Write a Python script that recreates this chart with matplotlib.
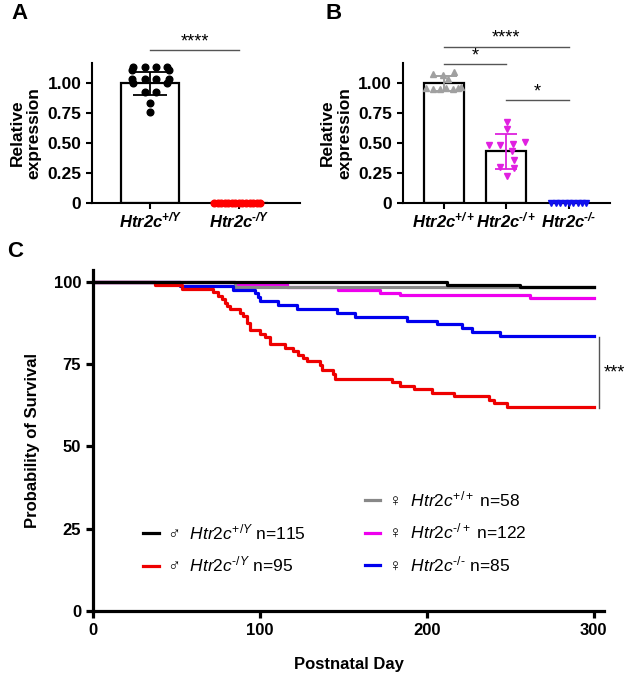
import numpy as np
import matplotlib.pyplot as plt

plt.rcParams['font.family'] = ['Liberation Sans', 'DejaVu Sans']
plt.rcParams['mathtext.fontset'] = 'custom'
plt.rcParams['mathtext.rm'] = 'Liberation Sans'
plt.rcParams['mathtext.it'] = 'Liberation Sans:italic'
plt.rcParams['mathtext.bf'] = 'Liberation Sans:bold'
plt.rcParams['mathtext.bfit'] = 'Liberation Sans:italic:bold'

#%% Data

# Panel A - relative expression, males
a_labels = ['$\\mathbfit{Htr2c}^{\\mathbfit{+/Y}}$', '$\\mathbfit{Htr2c}^{\\mathbfit{\u2010/Y}}$']
a_means = [1.00, 0.0]
a_sd = [0.10, 0.0]
a_wt_vals = [1.14, 1.14, 1.14, 1.14, 1.11, 1.11, 1.04, 1.04, 1.04, 1.04, 1.00, 1.00, 0.93, 0.93, 0.84, 0.76]
a_wt_x = [-0.19, -0.06, 0.06, 0.19, -0.21, 0.21, -0.21, -0.06, 0.06, 0.21, -0.19, 0.19, -0.06, 0.06, 0.0, 0.0]
a_ko_vals = [0, 0, 0, 0, 0, 0, 0, 0, 0, 0, 0, 0, 0, 0]
a_ko_x = [-0.28, -0.24, -0.2, -0.16, -0.12, -0.08, -0.04, 0.0, 0.04, 0.08, 0.12, 0.16, 0.2, 0.24]

# Panel B - relative expression, females
b_labels = ['$\\mathbfit{Htr2c}^{\\mathbfit{+/+}}$', '$\\mathbfit{Htr2c}^{\\mathbfit{\u2010/+}}$',
            '$\\mathbfit{Htr2c}^{\\mathbfit{\u2010/\u2010}}$']
b_means = [1.00, 0.43, 0.0]
b_sd = [0.06, 0.145, 0.0]
b_wt_vals = [0.96, 0.95, 1.08, 0.95, 1.07, 0.96, 1.04, 0.95, 1.10, 0.97, 0.96]
b_wt_x = [-0.28, -0.17, -0.17, -0.06, -0.01, 0.04, 0.07, 0.15, 0.165, 0.28, 0.22]
b_het_vals = [0.68, 0.62, 0.48, 0.48, 0.49, 0.51, 0.43, 0.36, 0.30, 0.29, 0.22]
b_het_x = [0.01, 0.01, -0.28, -0.1, 0.11, 0.29, 0.09, 0.12, -0.1, 0.12, 0.01]
b_ko_vals = [0, 0, 0, 0, 0, 0, 0, 0, 0]
b_ko_x = [-0.28, -0.21, -0.14, -0.07, 0.0, 0.07, 0.14, 0.21, 0.28]

# Panel C - Kaplan-Meier survival (step day, % surviving)
wt_m_days = [0, 212, 256, 300]
wt_m_surv = [100, 99.1, 98.3, 98.3]
ko_m_days = [0, 37, 53, 72, 75, 77, 79, 80, 82, 88, 90, 92, 94, 100, 103, 106, 115, 120, 123,
             126, 128, 136, 137, 144, 145, 179, 184, 192, 203, 216, 237, 240, 248, 300]
ko_m_surv = [100, 98.9, 97.9, 96.8, 95.8, 94.7, 93.7, 92.6, 91.6, 90.5, 89.5, 87.4, 85.3, 84.2,
             83.2, 81.1, 80.0, 78.9, 77.9, 76.8, 75.8, 74.7, 73.2, 72.1, 70.5, 69.5, 68.4, 67.4,
             66.3, 65.3, 64.2, 63.2, 62.1, 62.1]
wt_f_days = [0, 85, 300]
wt_f_surv = [100, 98.3, 98.3]
het_f_days = [0, 85, 116, 147, 172, 184, 262, 300]
het_f_surv = [100, 99.2, 98.4, 97.5, 96.7, 95.9, 95.1, 95.1]
ko_f_days = [0, 52, 84, 97, 99, 100, 111, 122, 146, 157, 188, 206, 221, 227, 244, 300]
ko_f_surv = [100, 98.8, 97.6, 96.5, 95.3, 94.1, 92.9, 91.8, 90.6, 89.4, 88.2, 87.1, 85.9, 84.7,
             83.5, 83.5]

leg_m_labels = ['\u2642  $\\mathit{Htr2c}^{+/Y}$ n=115', '\u2642  $\\mathit{Htr2c}^{\u2010/Y}$ n=95']
leg_f_labels = ['\u2640  $\\mathit{Htr2c}^{+/+}$ n=58', '\u2640  $\\mathit{Htr2c}^{\u2010/+}$ n=122',
                '\u2640  $\\mathit{Htr2c}^{\u2010/\u2010}$ n=85']

fig = plt.figure(figsize=(6.33, 6.8), dpi=100)


def style_bar_axes(ax, labels):
    for s in ['top', 'right']:
        ax.spines[s].set_visible(False)
    for s in ['left', 'bottom']:
        ax.spines[s].set_linewidth(1.5)
    ax.set_ylim(0, 1.17)
    ax.set_yticks([0, 0.25, 0.5, 0.75, 1.0])
    ax.set_yticklabels(['0', '0.25', '0.50', '0.75', '1.00'])
    ax.set_xticks(range(len(labels)))
    ax.set_xticklabels(labels, fontsize=12)
    ax.tick_params(width=1.5, length=4, labelsize=12.5)
    ax.tick_params(axis='x', labelsize=12, pad=2)
    for t in ax.get_yticklabels():
        t.set_fontweight('bold')
    ax.set_ylabel('Relative\nexpression', fontsize=12.5, fontweight='bold', labelpad=4)


def sig_bar(ax, x0, x1, y, txt):
    ax.plot([x0, x1], [y, y], color='#555555', lw=1.0, clip_on=False)
    ax.text((x0 + x1) / 2, y, txt, ha='center', va='bottom', fontsize=13, clip_on=False)


#%% Panel A
axA = fig.add_axes([0.145, 0.702, 0.329, 0.205])
axA.bar(range(2), a_means, width=0.65, color='white', edgecolor='black', linewidth=1.6, zorder=1)
axA.errorbar(0, a_means[0], yerr=a_sd[0], color='black', capsize=12, lw=1.3, capthick=1.3, zorder=3)
axA.plot(np.array(a_wt_x), a_wt_vals, 'o', color='black', ms=4.8, zorder=4)
axA.plot(1 + np.array(a_ko_x), a_ko_vals, 'o', color='red', ms=4.8, zorder=4, clip_on=False)
axA.set_xlim(-0.66, 1.69)
style_bar_axes(axA, a_labels)
sig_bar(axA, 0, 1, 1.28, '****')
fig.text(0.018, 0.995, 'A', fontsize=16, fontweight='bold', va='top')

#%% Panel B
axB = fig.add_axes([0.636, 0.702, 0.328, 0.205])
axB.bar(range(3), b_means, width=0.64, color='white', edgecolor='black', linewidth=1.6, zorder=1)
axB.errorbar(0, b_means[0], yerr=b_sd[0], color='#999999', capsize=9, lw=1.3, capthick=1.3, zorder=3)
axB.errorbar(1, b_means[1], yerr=b_sd[1], color='#dd22dd', capsize=8, lw=1.3, capthick=1.3, zorder=3)
axB.plot(np.array(b_wt_x), b_wt_vals, '^', color='#a0a0a0', ms=5, zorder=4)
axB.plot(1 + np.array(b_het_x), b_het_vals, 'v', color='#e020e0', ms=5, zorder=4)
axB.plot(2 + np.array(b_ko_x), b_ko_vals, 'v', color='#1010ee', ms=4, zorder=4, clip_on=False)
axB.set_xlim(-0.66, 2.66)
style_bar_axes(axB, b_labels)
sig_bar(axB, 0, 2, 1.31, '****')
sig_bar(axB, 0, 1, 1.16, '*')
sig_bar(axB, 1, 2, 0.86, '*')
fig.text(0.515, 0.995, 'B', fontsize=16, fontweight='bold', va='top')

#%% Panel C
axC = fig.add_axes([0.147, 0.1015, 0.807, 0.501])
lw = 2.3
l_hetf, = axC.step(het_f_days, het_f_surv, where='post', color='#ee00ee', lw=lw)
l_wtf, = axC.step(wt_f_days, wt_f_surv, where='post', color='#888888', lw=lw)
l_kof, = axC.step(ko_f_days, ko_f_surv, where='post', color='#0000ee', lw=lw)
l_kom, = axC.step(ko_m_days, ko_m_surv, where='post', color='#ee0000', lw=lw)
l_wtm, = axC.step(wt_m_days, wt_m_surv, where='post', color='black', lw=lw)

for s in ['top', 'right']:
    axC.spines[s].set_visible(False)
for s in ['left', 'bottom']:
    axC.spines[s].set_linewidth(2.3)
axC.set_xlim(0, 306)
axC.set_ylim(0, 103.5)
axC.set_xticks([0, 100, 200, 300])
axC.set_yticks([0, 25, 50, 75, 100])
axC.tick_params(width=2.3, length=5, labelsize=12)
for t in axC.get_xticklabels() + axC.get_yticklabels():
    t.set_fontweight('bold')
axC.set_xlabel('Postnatal Day', fontsize=12, fontweight='bold', labelpad=14)
axC.set_ylabel('Probability of Survival', fontsize=12, fontweight='bold', labelpad=10)

# significance between the two knockout curves
axC.plot([303, 303], [61.8, 83.3], color='#555555', lw=1.0, clip_on=False)
axC.text(306, 72.4, '***', fontsize=13, va='center', ha='left', clip_on=False)

leg_kw = dict(frameon=False, fontsize=12.5, handlelength=0.9, handletextpad=0.45,
              labelspacing=0.72, borderaxespad=0)
leg1 = axC.legend([l_wtm, l_kom], leg_m_labels,
                  loc='upper left', bbox_to_anchor=(0.085, 0.28), **leg_kw)
axC.add_artist(leg1)
axC.legend([l_wtf, l_hetf, l_kof], leg_f_labels,
           loc='upper left', bbox_to_anchor=(0.518, 0.377), **leg_kw)

fig.text(0.012, 0.645, 'C', fontsize=16, fontweight='bold', va='top')

plt.savefig('out.png', dpi=100)
